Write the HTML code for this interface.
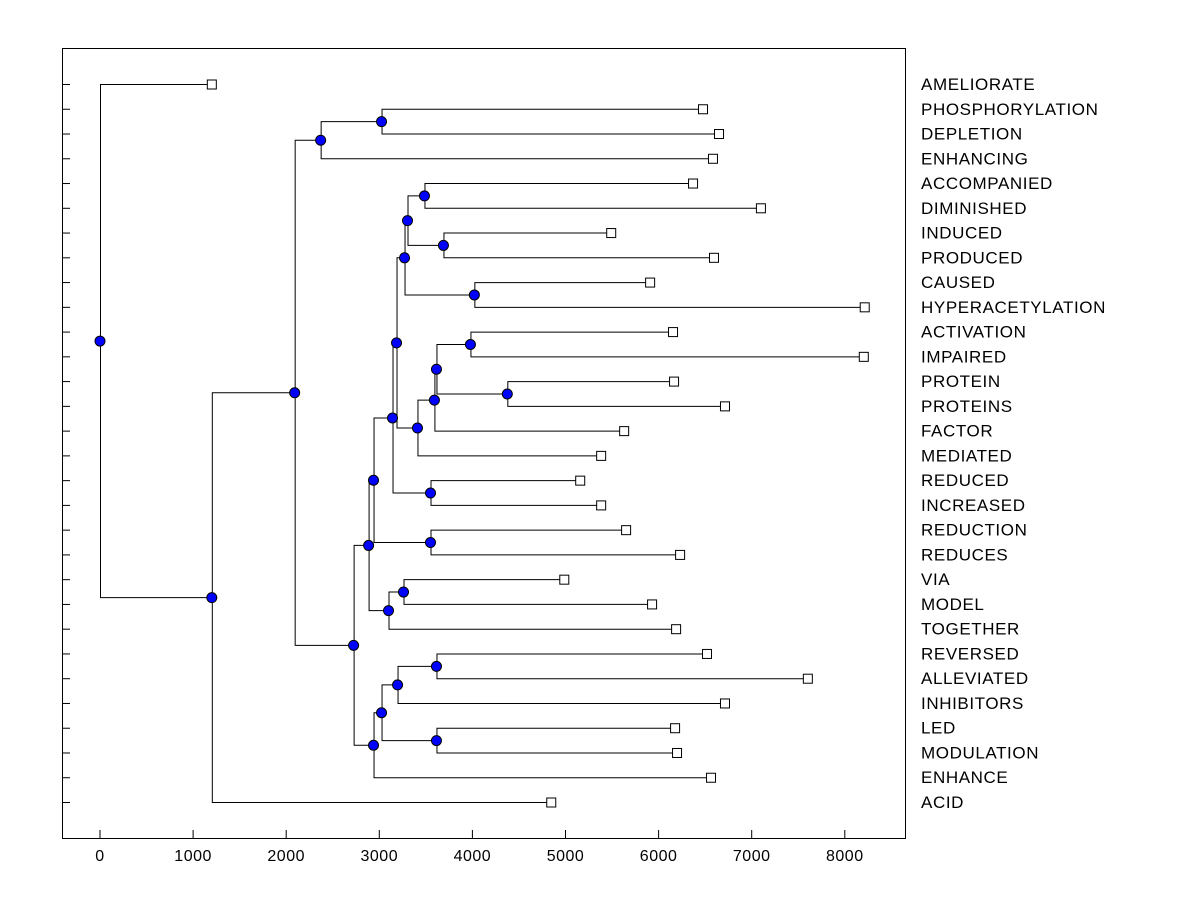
<!DOCTYPE html>
<html><head><meta charset="utf-8"><style>
body{margin:0;background:#fff;}
svg text{font-family:"Liberation Sans",Arial,sans-serif;}
</style></head><body>
<svg id="chart" width="1200" height="900" xmlns="http://www.w3.org/2000/svg">
<rect x="62.5" y="48.5" width="843" height="790" fill="none" stroke="#000"/>
<g id="axis"></g><g id="links"></g><g id="marks"></g>
</svg>
<script>
const leafLabels=["AMELIORATE","PHOSPHORYLATION","DEPLETION","ENHANCING","ACCOMPANIED","DIMINISHED","INDUCED","PRODUCED","CAUSED","HYPERACETYLATION","ACTIVATION","IMPAIRED","PROTEIN","PROTEINS","FACTOR","MEDIATED","REDUCED","INCREASED","REDUCTION","REDUCES","VIA","MODEL","TOGETHER","REVERSED","ALLEVIATED","INHIBITORS","LED","MODULATION","ENHANCE","ACID"];
const leafValues=[1201,6477,6649,6584,6370,7099,5491,6595,5909,8214,6155,8204,6166,6713,5630,5383,5158,5383,5651,6231,4987,5930,6188,6520,7603,6713,6177,6198,6563,4847];
// children: index <30 = leaf, >=30 = internal node (index-30)
const nodeLeft=[1,30,4,6,32,8,34,10,12,37,39,40,36,16,42,18,44,20,47,46,23,50,26,51,53,49,31,56,0];
const nodeRight=[2,3,5,7,33,9,35,11,13,38,14,15,41,17,43,19,45,21,22,48,24,25,27,52,28,54,55,29,57];
const nodeHeights=[3024,2370,3485,3689,3303,4021,3271,3979,4375,3614,3592,3410,3185,3550,3142,3550,2938,3260,3099,2885,3614,3196,3614,3024,2938,2724,2091,1201,0];
const xTicks=[0,1000,2000,3000,4000,5000,6000,7000,8000];

const NS="http://www.w3.org/2000/svg";
const xs=v=>100+v*0.0931;
const ys=i=>84+i*(802-84)/29;
function mk(tag,attrs,parent){const e=document.createElementNS(NS,tag);for(const k in attrs)e.setAttribute(k,attrs[k]);document.getElementById(parent).appendChild(e);return e;}
xTicks.forEach(t=>{
 const l=mk('line',{x1:xs(t),x2:xs(t),y1:830,y2:838,stroke:'#000'},'axis');
 
 
 const tx=mk('text',{x:xs(t),y:861,'text-anchor':'middle','font-size':16,'letter-spacing':0.5},'axis');tx.textContent=t;
 
 
});
leafLabels.forEach((lab,i)=>{
 const l=mk('line',{x1:62,x2:70,y1:ys(i)+.5,y2:ys(i)+.5,stroke:'#000'},'axis');
 
 
 const tx=mk('text',{x:921,y:ys(i)+6,'font-size':17,'letter-spacing':0.6},'axis');tx.textContent=lab;
 
 
});
const pos=[];
const getPos=c=>c<30?{x:xs(leafValues[c]),y:ys(c)}:pos[c-30];
nodeHeights.forEach((h,n)=>{
 const a=getPos(nodeLeft[n]),b=getPos(nodeRight[n]);const x=xs(h);
 pos[n]={x:x,y:(a.y+b.y)/2};
 const p=mk('path',{d:`M${a.x} ${a.y+.5}H${x+.5}V${b.y+.5}H${b.x}`,fill:'none',stroke:'#000'},'links');
 
 
});
leafValues.forEach((v,i)=>{
 const r=mk('rect',{x:xs(v)-4.5,y:ys(i)-4,width:9,height:9,fill:'#fff',stroke:'#000'},'marks');
 
 
});
pos.forEach(p=>{
 const c=mk('circle',{cx:p.x,cy:p.y+.5,r:5,fill:'#0000ff',stroke:'#000','stroke-width':1},'marks');
 
 
});
</script>
</body></html>
